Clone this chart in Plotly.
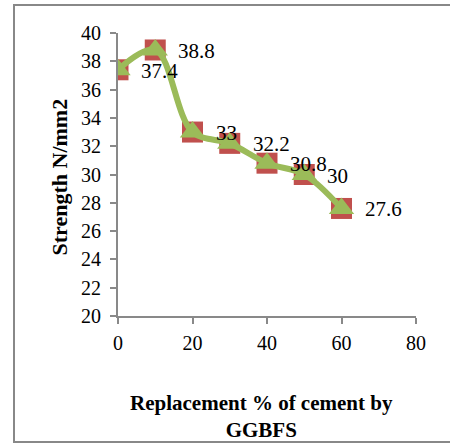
import plotly.graph_objects as go

replacement = [0, 10, 20, 30, 40, 50, 60]
strength = [37.4, 38.8, 33, 32.2, 30.8, 30, 27.6]
labels = ["37.4", "38.8", "33", "32.2", "30.8", "30", "27.6"]
x_ticks = [0, 20, 40, 60, 80]
y_ticks = [20, 22, 24, 26, 28, 30, 32, 34, 36, 38, 40]

W, H = 450, 443
L, R, T, B = 118, 34, 33, 127
pw, ph = W - L - R, H - T - B

def px(xp):
    return (xp - L) / pw

def py(yp):
    return 1 - (yp - T) / ph

fig = go.Figure()
fig.add_trace(go.Scatter(
    x=replacement, y=strength, mode="markers",
    marker=dict(symbol="square", size=21, color="#C0504D"),
    showlegend=False, hoverinfo="skip"))
fig.add_trace(go.Scatter(
    x=replacement, y=strength, mode="lines+markers",
    line=dict(color="#9BBB59", width=6, shape="spline", smoothing=1),
    marker=dict(symbol="triangle-up", size=22, color="#9BBB59"),
    showlegend=False))

for xv, yv, t in zip(replacement, strength, labels):
    fig.add_annotation(x=xv, y=yv, text=t, showarrow=False, xanchor="left",
                       yanchor="middle", xshift=21, yshift=-1,
                       font=dict(family="Liberation Serif", size=21, color="black"))

fig.add_annotation(x=px(59), y=(py(97) + py(258)) / 2, xref="paper", yref="paper",
                   xanchor="center", yanchor="middle",
                   text="<b>Strength N/mm2</b>", textangle=-90, showarrow=False,
                   font=dict(family="Liberation Serif", size=22, color="black"))
fig.add_annotation(x=px(261), y=py(416), xref="paper", yref="paper",
                   xanchor="center", yanchor="middle",
                   text="<b>Replacement % of cement by<br>GGBFS</b>", showarrow=False,
                   font=dict(family="Liberation Serif", size=21, color="black"))

fig.add_shape(type="rect", xref="paper", yref="paper",
              x0=px(14), x1=px(460), y0=py(442), y1=py(5),
              line=dict(color="#888888", width=2), fillcolor="rgba(0,0,0,0)", layer="below")

axis_common = dict(showgrid=False, zeroline=False, showline=True, linecolor="#898989",
                   linewidth=2, ticks="outside", tickcolor="#898989", tickwidth=2,
                   ticklen=6, tickfont=dict(family="Liberation Serif", size=20, color="black"))
fig.update_xaxes(range=[0, 80], tickvals=x_ticks, ticklabelstandoff=2, **axis_common)
fig.update_yaxes(range=[20, 40], tickvals=y_ticks, ticklabelstandoff=5, **axis_common)

fig.update_layout(width=W, height=H, margin=dict(l=L, r=R, t=T, b=B),
                  plot_bgcolor="white", paper_bgcolor="white")
fig.write_html("out.html")
